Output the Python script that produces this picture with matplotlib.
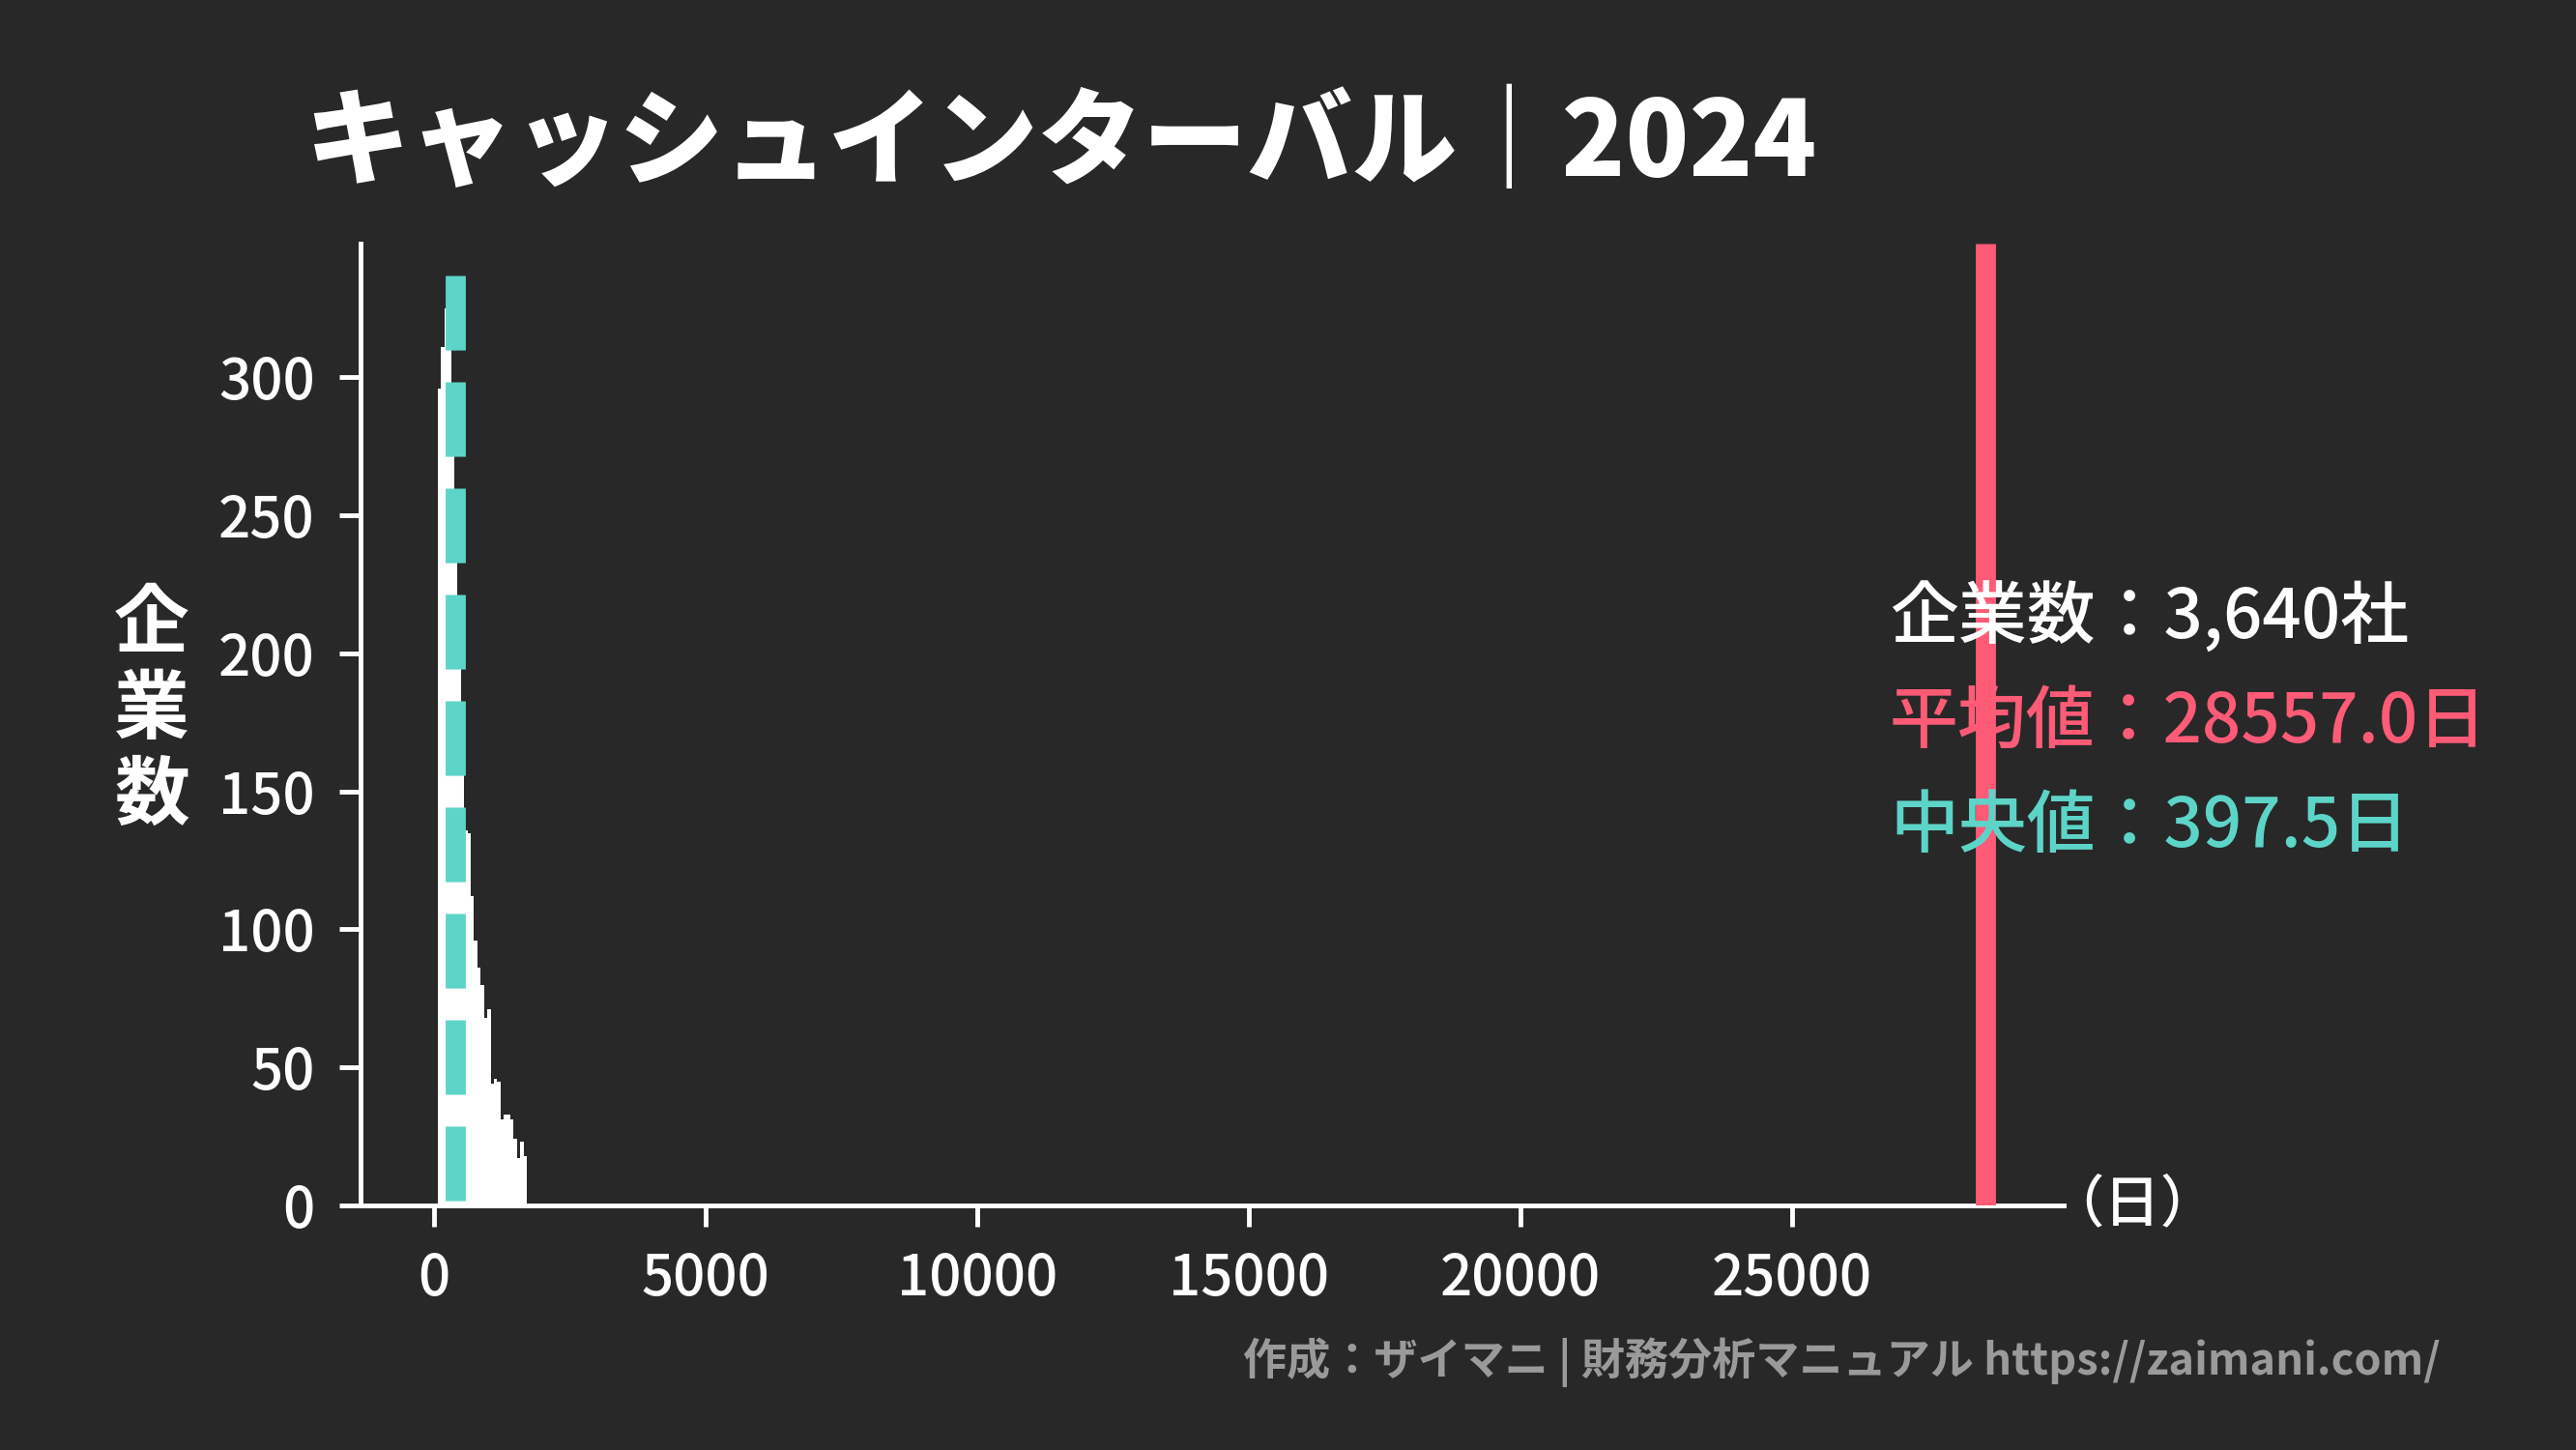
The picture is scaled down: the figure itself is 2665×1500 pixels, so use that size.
import numpy as np
import matplotlib
matplotlib.use("Agg")
import matplotlib.pyplot as plt

BG = "#282828"
RED = "#FF5B77"
CYAN = "#5DD4C8"
FOOT = "#9A9A9A"

plt.rcParams["font.family"] = ["Noto Sans CJK JP", "DejaVu Sans"]

# histogram (days) — bins
bin_edges = np.linspace(72, 1708, 28)
counts = [296, 311, 325, 330, 285, 246, 208, 170, 136, 135, 112, 96, 86, 80,
          68, 71, 44, 46, 45, 31, 33, 33, 31, 24, 17, 23, 18]

n_companies = 3640
mean_days = 28557.0
median_days = 397.5
median_line_top = 337

x_ticks = [0, 5000, 10000, 15000, 20000, 25000]
y_ticks = [0, 50, 100, 150, 200, 250, 300]

title = "キャッシュインターバル｜2024"
footer = "作成：ザイマニ | 財務分析マニュアル https://zaimani.com/"

fig = plt.figure(figsize=(26.65, 15), dpi=100, facecolor=BG)
ax = fig.add_axes([373 / 2665, 1 - 1247 / 1500, (2135 - 373) / 2665, (1247 - 252) / 1500])
ax.set_facecolor(BG)

widths = np.diff(bin_edges)
ax.bar(bin_edges[:-1], counts, width=widths, align="edge", color="white", linewidth=0)

ax.vlines(mean_days, 0, 348.5, color=RED, linewidth=15, zorder=3)
ax.vlines(median_days, median_line_top, 0, color=CYAN, linewidth=15,
          linestyles=[(0, (3.7, 1.58))], zorder=3)

ax.set_xlim(-1352, 30000)
ax.set_ylim(0, 348.5)
ax.set_xticks(x_ticks)
ax.set_yticks(y_ticks)

for side in ["top", "right"]:
    ax.spines[side].set_visible(False)
for side in ["left", "bottom"]:
    ax.spines[side].set_color("white")
    ax.spines[side].set_linewidth(3.5)

ax.tick_params(colors="white", labelsize=42, length=16, width=3.5, pad=18)
for lab in ax.get_xticklabels() + ax.get_yticklabels():
    lab.set_fontweight("medium")

fig.text(315 / 2665, 0.9, title, color="white", fontsize=78, fontweight="heavy",
         ha="left", va="center")

fig.text(157 / 2665, 0.51, "企\n業\n数", color="white", fontsize=56,
         fontweight="bold", ha="center", va="center", linespacing=1.15)

fig.text(2118 / 2665, 1 - 1247 / 1500, "（日）", color="white", fontsize=42,
         fontweight="medium", ha="left", va="center")

stats_x = 1955 / 2665
stats_kw = dict(fontsize=51, fontweight="medium", ha="left", va="center")
fig.text(stats_x, 1 - 640 / 1500, f"企業数：{n_companies:,}社", color="white", **stats_kw)
fig.text(stats_x, 1 - 748 / 1500, f"平均値：{mean_days:.1f}日", color=RED, **stats_kw)
fig.text(stats_x, 1 - 856 / 1500, f"中央値：{median_days:.1f}日", color=CYAN, **stats_kw)

fig.text(2525 / 2665, 1 - 1409 / 1500, footer, color=FOOT, fontsize=32.5,
         fontweight="bold", ha="right", va="center")

fig.savefig("out.png", dpi=100, facecolor=BG)
